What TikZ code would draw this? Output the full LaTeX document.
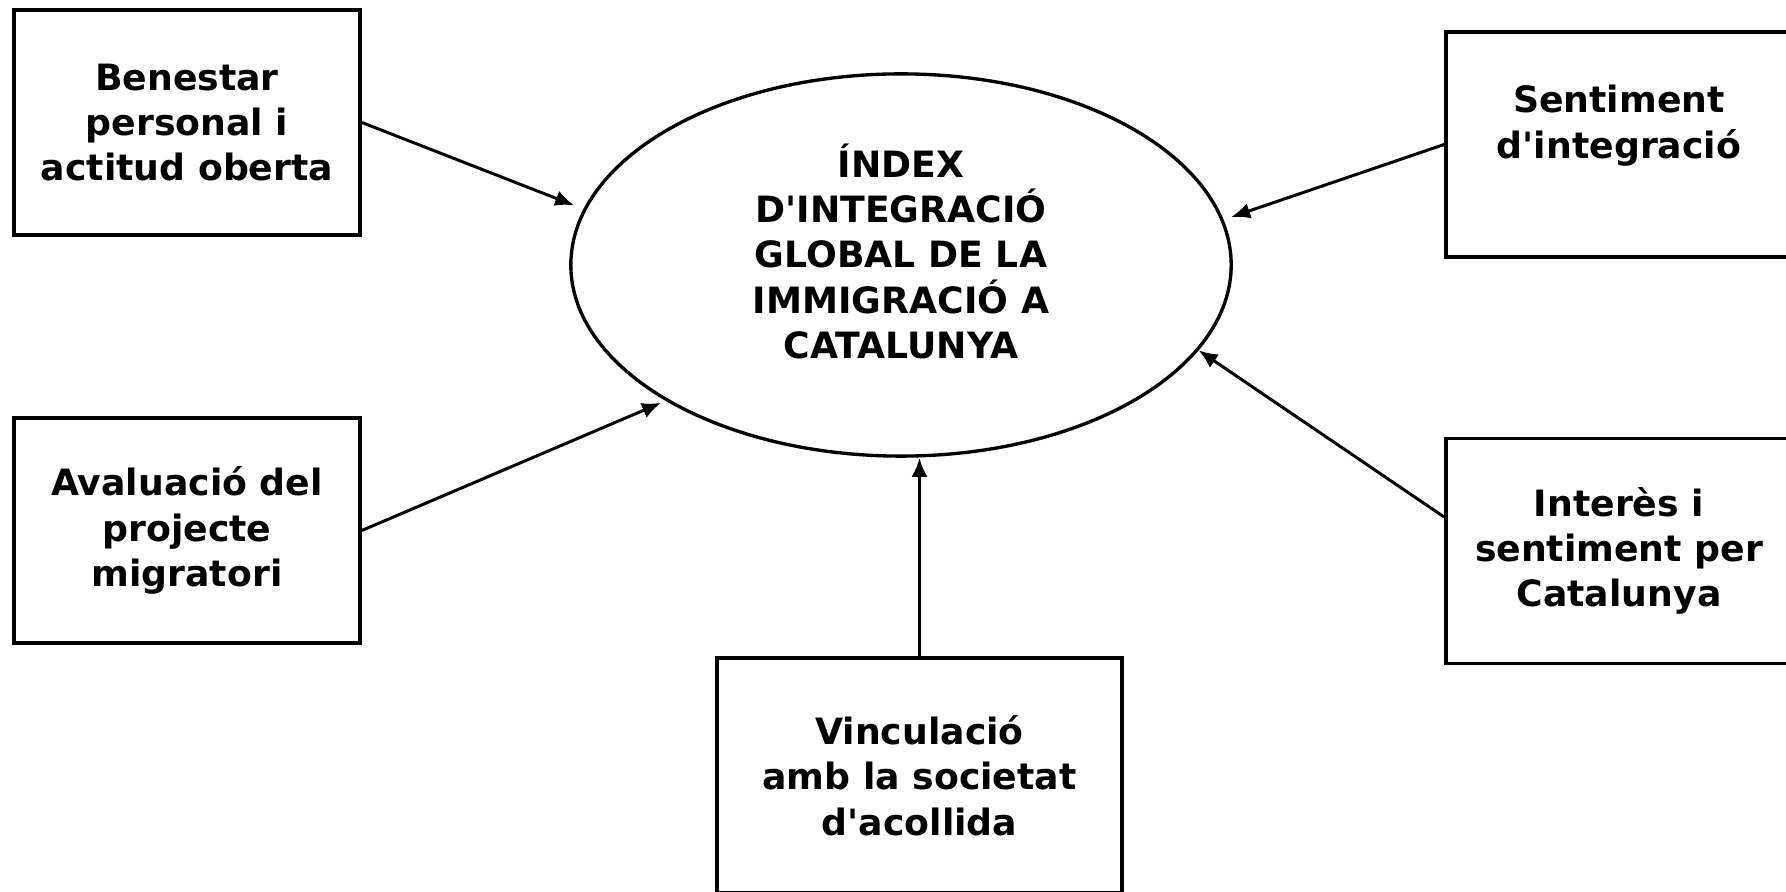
\documentclass[tikz,border=0pt]{standalone}
\usepackage{fontspec}
\setmainfont{DejaVu Sans}
\usetikzlibrary{shapes.geometric,arrows.meta}

\begin{document}
\begin{tikzpicture}[
  x=0.01cm, y=-0.01cm,
  panel/.style={rectangle, draw=black, line width=1pt,
                minimum width=3.46cm, minimum height=2.25cm,
                align=center, font=\bfseries\fontsize{10.3}{12.9}\selectfont},
  core/.style={ellipse, draw=black, line width=0.95pt, inner sep=0pt,
               minimum width=6.6cm, minimum height=3.82cm,
               align=center, font=\bfseries\fontsize{10.3}{12.9}\selectfont},
  arrow/.style={-{Latex[length=1.9mm, width=1.6mm]}, line width=0.85pt}
]
\useasboundingbox (0,0) rectangle (1786,892);
\clip (0,0) rectangle (1786,892);

\node[core] (ell) at (901,265)
  {ÍNDEX\\D\textquotesingle INTEGRACIÓ\\GLOBAL DE LA\\IMMIGRACIÓ A\\CATALUNYA\\[-5pt]\mbox{}};

\node[panel] (bene)  at (187,122.5) {Benestar\\personal i\\actitud oberta};
\node[panel] (aval)  at (187,530.5) {Avaluació del\\projecte\\migratori};
\node[panel] (sent)  at (1619,144.5) {Sentiment\\d\textquotesingle integració\\\mbox{}};
\node[panel] (inter) at (1619,551) {Interès i\\sentiment per\\Catalunya};
\node[panel, minimum width=4.05cm, minimum height=2.35cm] (vinc) at (919.5,775.5)
  {Vinculació\\amb la societat\\d\textquotesingle acollida};

% Factors into the index
\draw[arrow, shorten >=1mm]   (bene.east)  -- (ell.170);
\draw[arrow, shorten >=0.5mm] (aval.east)  -- (ell.210);
\draw[arrow]                  (vinc.north) -- (vinc.north |- ell.south);
\draw[arrow, shorten >=0.8mm] (sent.west)  -- (ell.8);
\draw[arrow]                  (inter.169)  -- (ell.344);

\end{tikzpicture}
\end{document}
